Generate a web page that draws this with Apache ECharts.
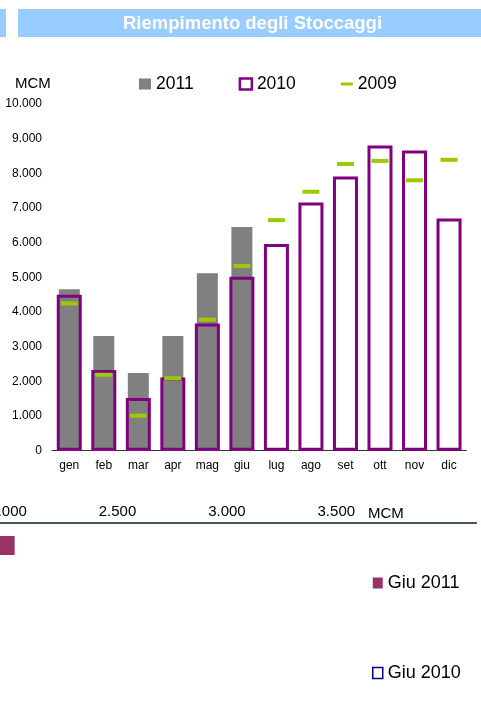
<!DOCTYPE html>
<html>
<head>
<meta charset="utf-8">
<script src="https://cdn.jsdelivr.net/npm/echarts@6/dist/echarts.min.js"></script>
<style>
html, body { margin: 0; padding: 0; background: #fff; }
#chart { width: 481px; height: 715px; }
</style>
</head>
<body>
<div id="chart"></div>
<script>
// riempimento mensile (MCM)
var mesi = ['gen', 'feb', 'mar', 'apr', 'mag', 'giu', 'lug', 'ago', 'set', 'ott', 'nov', 'dic']
var val2011 = [4660, 3310, 2240, 3310, 5120, 6450, '-', '-', '-', '-', '-', '-']
var val2010 = [4500, 2330, 1520, 2110, 3670, 5020, 5960, 7160, 7910, 8800, 8660, 6700]
var val2009 = [4250, 2190, 1010, 2090, 3780, 5330, 6650, 7470, 8270, 8360, 7800, 8390]

// grafico in basso (tagliato)
var giuCategorie = ['Giu 2011', 'Giu 2010']
var giu2011 = [2030, '-']
var giu2010 = ['-', 1850] // fuori vista, stimato

var font = 'Liberation Sans'

function fmt(v) {
  return String(v).replace(/\B(?=(\d{3})+(?!\d))/g, '.')
}

var chart = echarts.init(document.getElementById('chart'))

var option = {
  backgroundColor: '#fff',
  animation: false,
  textStyle: { fontFamily: font },
  title: {
    text: 'Riempimento degli Stoccaggi',
    left: 123,
    top: 14,
    padding: 0,
    textStyle: { color: '#fff', fontSize: 18.5, fontWeight: 'bold', fontFamily: font }
  },
  graphic: [
    { type: 'rect', z: -1, shape: { x: 0, y: 9, width: 6, height: 28 }, style: { fill: '#99ccff' } },
    { type: 'rect', z: -1, shape: { x: 18, y: 9, width: 463, height: 28 }, style: { fill: '#99ccff' } },
    { type: 'text', x: 15, y: 76, style: { text: 'MCM', fill: '#000', font: '15px "Liberation Sans"' } },
    { type: 'text', x: 368, y: 506, style: { text: 'MCM', fill: '#000', font: '15px "Liberation Sans"' } },
    { type: 'line', shape: { x1: 0, y1: 523, x2: 477, y2: 523 }, style: { stroke: '#46555e', lineWidth: 2 } }
  ],
  legend: [
    {
      left: 139,
      top: 75,
      padding: 0,
      itemWidth: 12,
      itemHeight: 11,
      itemGap: 45,
      icon: 'rect',
      textStyle: { fontSize: 17.5, color: '#000', fontFamily: font },
      data: [
        { name: '2011' },
        { name: '2010', itemStyle: { color: '#fff', borderColor: '#800080', borderWidth: 2.5 } },
        { name: '2009', icon: 'path://M0,0H12V3H0Z' }
      ]
    },
    {
      orient: 'vertical',
      left: 372,
      top: 574,
      padding: 0,
      itemWidth: 10,
      itemHeight: 11,
      itemGap: 72,
      icon: 'rect',
      textStyle: { fontSize: 18, color: '#000', fontFamily: font },
      data: [
        { name: 'Giu 2011' },
        { name: 'Giu 2010', itemStyle: { color: '#fff', borderColor: '#000080', borderWidth: 1.5 } }
      ]
    }
  ],
  grid: [
    { left: 52, right: 14.7, top: 104, bottom: 264.3, outerBoundsMode: 'none' },
    { left: -101.3, right: 144.7, top: 523, height: 90, outerBoundsMode: 'none' }
  ],
  xAxis: [
    {
      type: 'category',
      gridIndex: 0,
      data: mesi,
      axisLine: { lineStyle: { color: '#333', width: 1 } },
      axisTick: { length: 4, lineStyle: { color: '#333' } },
      axisLabel: { color: '#000', fontSize: 12, margin: 9, fontFamily: font }
    },
    {
      type: 'category',
      gridIndex: 0,
      data: mesi,
      show: false
    },
    {
      type: 'value',
      gridIndex: 1,
      position: 'top',
      min: 1500,
      max: 3500,
      interval: 500,
      splitLine: { show: false },
      axisLine: { show: false },
      axisTick: { show: false },
      axisLabel: { color: '#000', fontSize: 15, margin: 4, fontFamily: font, formatter: fmt }
    }
  ],
  yAxis: [
    {
      type: 'value',
      gridIndex: 0,
      min: 0,
      max: 10000,
      interval: 1000,
      splitLine: { show: false },
      axisLine: { show: false },
      axisTick: { show: false },
      axisLabel: { color: '#000', fontSize: 12, margin: 10, fontFamily: font, formatter: fmt }
    },
    {
      type: 'category',
      gridIndex: 1,
      data: giuCategorie,
      inverse: true,
      show: false
    }
  ],
  series: [
    {
      name: '2011',
      type: 'bar',
      xAxisIndex: 1,
      yAxisIndex: 0,
      barWidth: 21,
      z: 2,
      itemStyle: { color: '#808080' },
      data: val2011
    },
    {
      name: '2010',
      type: 'bar',
      xAxisIndex: 0,
      yAxisIndex: 0,
      barWidth: 25,
      z: 3,
      itemStyle: { color: 'rgba(255,255,255,0)', borderColor: '#800080', borderWidth: 3 },
      data: val2010
    },
    {
      name: '2009',
      type: 'scatter',
      xAxisIndex: 0,
      yAxisIndex: 0,
      symbol: 'rect',
      symbolSize: [17, 4],
      z: 4,
      itemStyle: { color: '#99cc00', opacity: 1 },
      data: val2009
    },
    {
      name: 'Giu 2011',
      type: 'bar',
      xAxisIndex: 2,
      yAxisIndex: 1,
      barWidth: 19,
      barGap: '-100%',
      itemStyle: { color: '#993366' },
      data: giu2011
    },
    {
      name: 'Giu 2010',
      type: 'bar',
      xAxisIndex: 2,
      yAxisIndex: 1,
      barWidth: 19,
      barGap: '-100%',
      itemStyle: { color: '#fff', borderColor: '#000080', borderWidth: 1.5 },
      data: giu2010
    }
  ]
}

chart.setOption(option)
</script>
</body>
</html>
